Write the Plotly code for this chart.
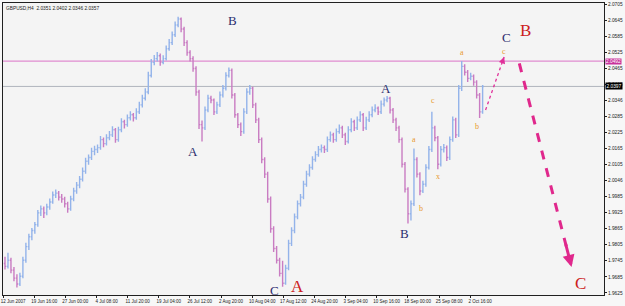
import plotly.graph_objects as go

# ---------------- data (aggregated H4 bars, prices) ----------------
opens = [1.9735,1.9724,1.9747,1.9710,1.9680,1.9658,1.9687,1.9747,1.9798,1.9835,
1.9858,1.9880,1.9924,1.9939,1.9924,1.9946,1.9965,1.9991,1.9998,1.9983,
1.9976,1.9958,1.9939,1.9976,2.0006,2.0028,2.0050,2.0080,2.0117,2.0131,
2.0154,2.0161,2.0168,2.0198,2.0183,2.0205,2.0216,2.0235,2.0198,2.0235,
2.0265,2.0254,2.0280,2.0291,2.0280,2.0302,2.0328,2.0353,2.0376,2.0438,
2.0487,2.0501,2.0512,2.0487,2.0501,2.0538,2.0561,2.0590,2.0627,2.0649,
2.0612,2.0561,2.0524,2.0501,2.0464,2.0376,2.0254,2.0242,2.0309,2.0353,
2.0346,2.0302,2.0328,2.0365,2.0390,2.0438,2.0457,2.0365,2.0291,2.0254,
2.0228,2.0302,2.0376,2.0390,2.0328,2.0272,2.0198,2.0124,2.0069,1.9976,
1.9865,1.9791,1.9747,1.9698,1.9661,1.9717,1.9810,1.9858,1.9909,1.9958,
1.9983,2.0031,2.0069,2.0094,2.0124,2.0142,2.0161,2.0168,2.0161,2.0198,
2.0216,2.0198,2.0228,2.0242,2.0216,2.0191,2.0235,2.0265,2.0242,2.0272,
2.0291,2.0242,2.0272,2.0291,2.0309,2.0316,2.0302,2.0331,2.0346,2.0353,
2.0309,2.0272,2.0242,2.0198,2.0106,2.0013,1.9921,1.9958,2.0124,2.0069,
2.0006,2.0031,2.0094,2.0161,2.0242,2.0205,2.0106,2.0161,2.0168,2.0131,
2.0198,2.0272,2.0216,2.0390,2.0472,2.0450,2.0427,2.0435,2.0413,2.0365,
2.0302]
highs = [1.9760,1.9775,1.9756,1.9722,1.9695,1.9700,1.9760,1.9812,1.9846,1.9868,
1.9890,1.9935,1.9952,1.9948,1.9958,1.9978,2.0004,2.0012,2.0006,1.9995,
1.9984,1.9966,1.9988,2.0018,2.0040,2.0062,2.0094,2.0130,2.0142,2.0168,
2.0175,2.0180,2.0212,2.0206,2.0218,2.0230,2.0248,2.0242,2.0246,2.0278,
2.0272,2.0292,2.0304,2.0298,2.0315,2.0340,2.0366,2.0390,2.0452,2.0500,
2.0515,2.0526,2.0520,2.0514,2.0550,2.0574,2.0602,2.0640,2.0658,2.0655,
2.0620,2.0570,2.0532,2.0510,2.0472,2.0385,2.0270,2.0322,2.0366,2.0362,
2.0352,2.0340,2.0378,2.0402,2.0450,2.0468,2.0464,2.0372,2.0298,2.0262,
2.0315,2.0390,2.0402,2.0396,2.0336,2.0280,2.0206,2.0132,2.0078,1.9985,
1.9874,1.9800,1.9756,1.9745,1.9730,1.9824,1.9870,1.9922,1.9970,1.9995,
2.0044,2.0082,2.0106,2.0136,2.0155,2.0174,2.0180,2.0176,2.0210,2.0228,
2.0224,2.0240,2.0255,2.0250,2.0224,2.0248,2.0278,2.0272,2.0285,2.0304,
2.0298,2.0284,2.0304,2.0322,2.0330,2.0322,2.0344,2.0356,2.0361,2.0358,
2.0316,2.0280,2.0250,2.0206,2.0114,2.0020,1.9970,2.0165,2.0132,2.0076,
2.0044,2.0106,2.0174,2.0302,2.0250,2.0212,2.0174,2.0182,2.0176,2.0210,
2.0285,2.0280,2.0402,2.0492,2.0480,2.0458,2.0448,2.0442,2.0420,2.0372,
2.0402]
lows = [1.9712,1.9716,1.9698,1.9668,1.9645,1.9651,1.9680,1.9738,1.9785,1.9822,
1.9846,1.9872,1.9912,1.9905,1.9915,1.9936,1.9958,1.9980,1.9970,1.9962,
1.9944,1.9925,1.9932,1.9968,1.9996,2.0016,2.0041,2.0070,2.0104,2.0122,
2.0140,2.0148,2.0160,2.0170,2.0176,2.0196,2.0208,2.0186,2.0190,2.0226,
2.0240,2.0246,2.0270,2.0266,2.0272,2.0294,2.0318,2.0344,2.0368,2.0430,
2.0476,2.0490,2.0474,2.0480,2.0494,2.0530,2.0552,2.0582,2.0618,2.0600,
2.0548,2.0512,2.0490,2.0452,2.0362,2.0238,2.0191,2.0234,2.0300,2.0334,
2.0290,2.0294,2.0320,2.0356,2.0382,2.0430,2.0352,2.0280,2.0242,2.0212,
2.0220,2.0294,2.0366,2.0316,2.0260,2.0185,2.0110,2.0055,1.9962,1.9850,
1.9778,1.9735,1.9686,1.9648,1.9655,1.9710,1.9800,1.9848,1.9900,1.9948,
1.9975,2.0022,2.0060,2.0085,2.0115,2.0134,2.0150,2.0148,2.0152,2.0190,
2.0186,2.0190,2.0220,2.0204,2.0178,2.0184,2.0226,2.0230,2.0234,2.0264,
2.0230,2.0234,2.0264,2.0282,2.0300,2.0290,2.0294,2.0322,2.0338,2.0296,
2.0260,2.0230,2.0186,2.0094,2.0000,1.9884,1.9896,1.9950,2.0056,1.9990,
1.9998,2.0022,2.0086,2.0152,2.0192,2.0087,2.0098,2.0150,2.0118,2.0122,
2.0190,2.0204,2.0208,2.0380,2.0438,2.0414,2.0420,2.0400,2.0352,2.0279,
2.0295]
closes = [1.9724,1.9747,1.9710,1.9680,1.9658,1.9687,1.9747,1.9798,1.9835,1.9858,
1.9880,1.9924,1.9939,1.9924,1.9946,1.9965,1.9991,1.9998,1.9983,1.9976,
1.9958,1.9939,1.9976,2.0006,2.0028,2.0050,2.0080,2.0117,2.0131,2.0154,
2.0161,2.0168,2.0198,2.0183,2.0205,2.0216,2.0235,2.0198,2.0235,2.0265,
2.0254,2.0280,2.0291,2.0280,2.0302,2.0328,2.0353,2.0376,2.0438,2.0487,
2.0501,2.0512,2.0487,2.0501,2.0538,2.0561,2.0590,2.0627,2.0649,2.0612,
2.0561,2.0524,2.0501,2.0464,2.0376,2.0254,2.0242,2.0309,2.0353,2.0346,
2.0302,2.0328,2.0365,2.0390,2.0438,2.0457,2.0365,2.0291,2.0254,2.0228,
2.0302,2.0376,2.0390,2.0328,2.0272,2.0198,2.0124,2.0069,1.9976,1.9865,
1.9791,1.9747,1.9698,1.9661,1.9717,1.9810,1.9858,1.9909,1.9958,1.9983,
2.0031,2.0069,2.0094,2.0124,2.0142,2.0161,2.0168,2.0161,2.0198,2.0216,
2.0198,2.0228,2.0242,2.0216,2.0191,2.0235,2.0265,2.0242,2.0272,2.0291,
2.0242,2.0272,2.0291,2.0309,2.0316,2.0302,2.0331,2.0346,2.0353,2.0309,
2.0272,2.0242,2.0198,2.0106,2.0013,1.9921,1.9958,2.0124,2.0069,2.0006,
2.0031,2.0094,2.0161,2.0242,2.0205,2.0106,2.0161,2.0168,2.0131,2.0198,
2.0272,2.0216,2.0390,2.0472,2.0450,2.0427,2.0435,2.0413,2.0365,2.0302,
2.0397]
bar_index = list(range(len(closes)))

date_labels = ["12 Jun 2007", "19 Jun 16:00", "27 Jun 00:00", "4 Jul 08:00",
               "11 Jul 20:00", "19 Jul 04:00", "26 Jul 12:00", "2 Aug 20:00",
               "10 Aug 04:00", "17 Aug 12:00", "24 Aug 20:00", "3 Sep 04:00",
               "10 Sep 16:00", "18 Sep 00:00", "25 Sep 08:00", "2 Oct 16:00"]
date_label_bars = [-0.6, 9.8, 20.2, 30.7, 41.1, 51.5, 61.9, 72.4,
                   82.8, 93.2, 103.7, 114.1, 124.5, 134.9, 145.4, 155.8]

price_ticks = [2.0705, 2.0645, 2.0585, 2.0525, 2.0465, 2.0405, 2.0345, 2.0285,
               2.0225, 2.0165, 2.0105, 2.0045, 1.9985, 1.9925, 1.9865, 1.9805,
               1.9745, 1.9685, 1.9625]
price_tick_text = ["2.0705", "2.0645", "2.0585", "2.0525", "2.0465", "2.0405",
                   "2.0346", "2.0285", "2.0225", "2.0165", "2.0105", "2.0046",
                   "1.9985", "1.9925", "1.9865", "1.9805", "1.9745", "1.9685",
                   "1.9625"]

resistance_level = 2.0492
last_price = 2.0397
title_text = "GBPUSD,H4  2.0351 2.0402 2.0346 2.0357"

# wave labels: (bar position, price, text)
navy_labels = [(76.3, 2.0643, "B"), (63.0, 2.0155, "A"), (90.3, 1.9633, "C"),
               (127.7, 2.0390, "A"), (133.7, 1.9846, "B"), (168.0, 2.0579, "C")]
red_labels = [(174.3, 2.0605, "B"), (98.0, 1.9650, "A"), (192.7, 1.9660, "C")]
orange_labels = [(137.0, 2.0198, "a"), (139.3, 1.9939, "b"), (143.3, 2.0346, "c"),
                 (145.0, 2.0061, "x"), (153.0, 2.0524, "a"), (158.0, 2.0246, "b"),
                 (167.3, 2.0527, "c")]
# projected moves: (x0, y0, x1, y1)
small_arrow = (161.0, 2.0309, 167.2, 2.0507)
big_arrow = (172.3, 2.0483, 189.8, 1.9722)

# ---------------- figure ----------------
fig = go.Figure()
fig.add_trace(go.Ohlc(
    x=bar_index, open=opens, high=highs, low=lows, close=closes,
    increasing=dict(line=dict(color="#93b3ea", width=1.4)),
    decreasing=dict(line=dict(color="#c97cc2", width=1.4)),
    tickwidth=0.4, hoverinfo="skip", showlegend=False))

x_lo, x_hi = -0.667, 200.667
y_lo, y_hi = 1.9617, 2.0709

# horizontal lines
fig.add_shape(type="line", xref="paper", x0=0, x1=1, yref="y",
              y0=resistance_level, y1=resistance_level,
              line=dict(color="#e08cd0", width=1.2), layer="below")
fig.add_shape(type="line", xref="paper", x0=0, x1=1, yref="y",
              y0=last_price, y1=last_price,
              line=dict(color="#b0b4bc", width=1), layer="below")

# arrows (dashed shaft + head)
for (x0, y0, x1, y1), w, col, dash in [(small_arrow, 1.3, "#e0309a", "dot"),
                                       (big_arrow, 3.0, "#e0288c", "dash")]:
    fig.add_trace(go.Scatter(x=[x0, x1], y=[y0, y1], mode="lines",
                             line=dict(color=col, width=w, dash=dash),
                             hoverinfo="skip", showlegend=False))
    fig.add_annotation(x=x1, y=y1, ax=x1 - (x1 - x0) * 0.12, ay=y1 - (y1 - y0) * 0.12,
                       xref="x", yref="y", axref="x", ayref="y", text="",
                       showarrow=True, arrowhead=2, arrowsize=1.0 if w < 2 else 0.8,
                       arrowwidth=w, arrowcolor=col)

for x, y, t in navy_labels:
    fig.add_annotation(x=x, y=y, text=t, showarrow=False,
                       font=dict(family="Liberation Serif", size=13, color="#2b2d6e"))
for x, y, t in red_labels:
    fig.add_annotation(x=x, y=y, text=t, showarrow=False,
                       font=dict(family="Liberation Serif", size=17, color="#cc2020"))
for x, y, t in orange_labels:
    fig.add_annotation(x=x, y=y, text=t, showarrow=False,
                       font=dict(family="Liberation Serif", size=8, color="#e89a2c"))

# title in the top-left
fig.add_annotation(xref="paper", yref="paper", x=0.002, y=0.995, xanchor="left",
                   yanchor="top", text=title_text, showarrow=False,
                   font=dict(family="Liberation Sans", size=4.8, color="#222222"))

# price boxes on the right axis
fig.add_annotation(xref="paper", yref="y", x=1.0, y=resistance_level, xanchor="left",
                   text=str(resistance_level), showarrow=False, bgcolor="#c8329c",
                   font=dict(family="Liberation Sans", size=4.8, color="white"),
                   borderpad=0, xshift=1)
fig.add_annotation(xref="paper", yref="y", x=1.0, y=last_price, xanchor="left",
                   text=str(last_price), showarrow=False, bgcolor="#000000",
                   font=dict(family="Liberation Sans", size=4.8, color="white"),
                   borderpad=0.5, xshift=1)

fig.update_layout(
    width=625, height=306,
    margin=dict(l=2, r=19, t=2, b=9),
    paper_bgcolor="#f7f7f7", plot_bgcolor="#f4f4f4",
    showlegend=False,
    xaxis=dict(range=[x_lo, x_hi], rangeslider=dict(visible=False),
               showgrid=False, zeroline=False, showline=True, mirror=True,
               linecolor="#202020", linewidth=1,
               tickmode="array", tickvals=date_label_bars, ticktext=date_labels,
               ticks="outside", ticklen=2, tickcolor="#202020",
               ticklabelshift=10, ticklabelstandoff=0,
               tickfont=dict(family="Liberation Sans", size=4.5, color="#222222")),
    yaxis=dict(range=[y_lo, y_hi], side="right", showgrid=False, zeroline=False,
               showline=True, mirror=True, linecolor="#202020", linewidth=1,
               tickmode="array", tickvals=price_ticks, ticktext=price_tick_text,
               ticks="outside", ticklen=2, tickcolor="#202020",
               tickfont=dict(family="Liberation Sans", size=4.8, color="#222222")),
)

fig.write_html("out.html")
